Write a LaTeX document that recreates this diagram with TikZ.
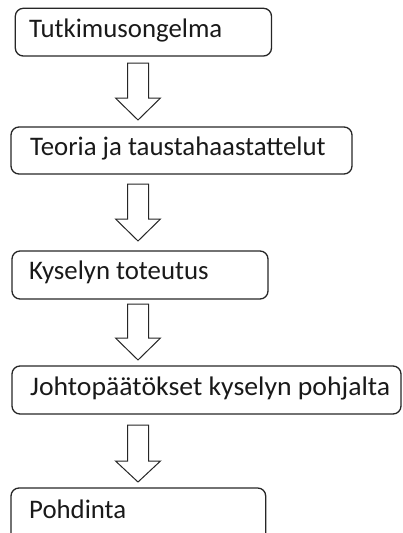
\documentclass[tikz,border=0pt]{standalone}
\usepackage{fontspec}
\setmainfont{Carlito}
\begin{document}
\begin{tikzpicture}[x=1pt,y=-1pt,
  stepbox/.style={draw=black!85, line width=1.3pt, rounded corners=8pt},
  steptext/.style={anchor=base west, inner sep=0pt, font=\fontsize{26.8}{32}\selectfont, text=black!90},
  flowarrow/.style={draw=black!85, line width=1pt, fill=white, line join=miter}]
\useasboundingbox (0,0) rectangle (403,533);
\clip (0,0) rectangle (403,533);
% boxes
\path[stepbox] (15.3,8.3) rectangle (271.5,56);
\path[stepbox] (11,127) rectangle (352,174);
\path[stepbox] (12,251) rectangle (268,299);
\path[stepbox] (12,366) rectangle (401,414);
\path[stepbox] (11,488) rectangle (265.7,545);
% texts
\node[steptext] (t1) at (29,37) {Tutkimusongelma};
\node[steptext] (t2) at (30,155.5) {Teoria ja taustahaastattelut};
\node[steptext] (t3) at (29,279) {Kyselyn toteutus};
\node[steptext] (t4) at (30,395.5) {\scalebox{1.035}[1]{Johtopäätökset kyselyn pohjalta}};
\node[steptext] (t5) at (29,518.5) {Pohdinta};
% block arrows
\foreach \top/\head/\tip in {63/98/120, 184/219/241, 304/338/360, 425/461/482}{
  \path[flowarrow] (127.5,\top) -- (148.5,\top) -- (148.5,\head) -- (160.5,\head)
     -- (138,\tip) -- (115.5,\head) -- (127.5,\head) -- cycle;
}
\end{tikzpicture}
\end{document}
